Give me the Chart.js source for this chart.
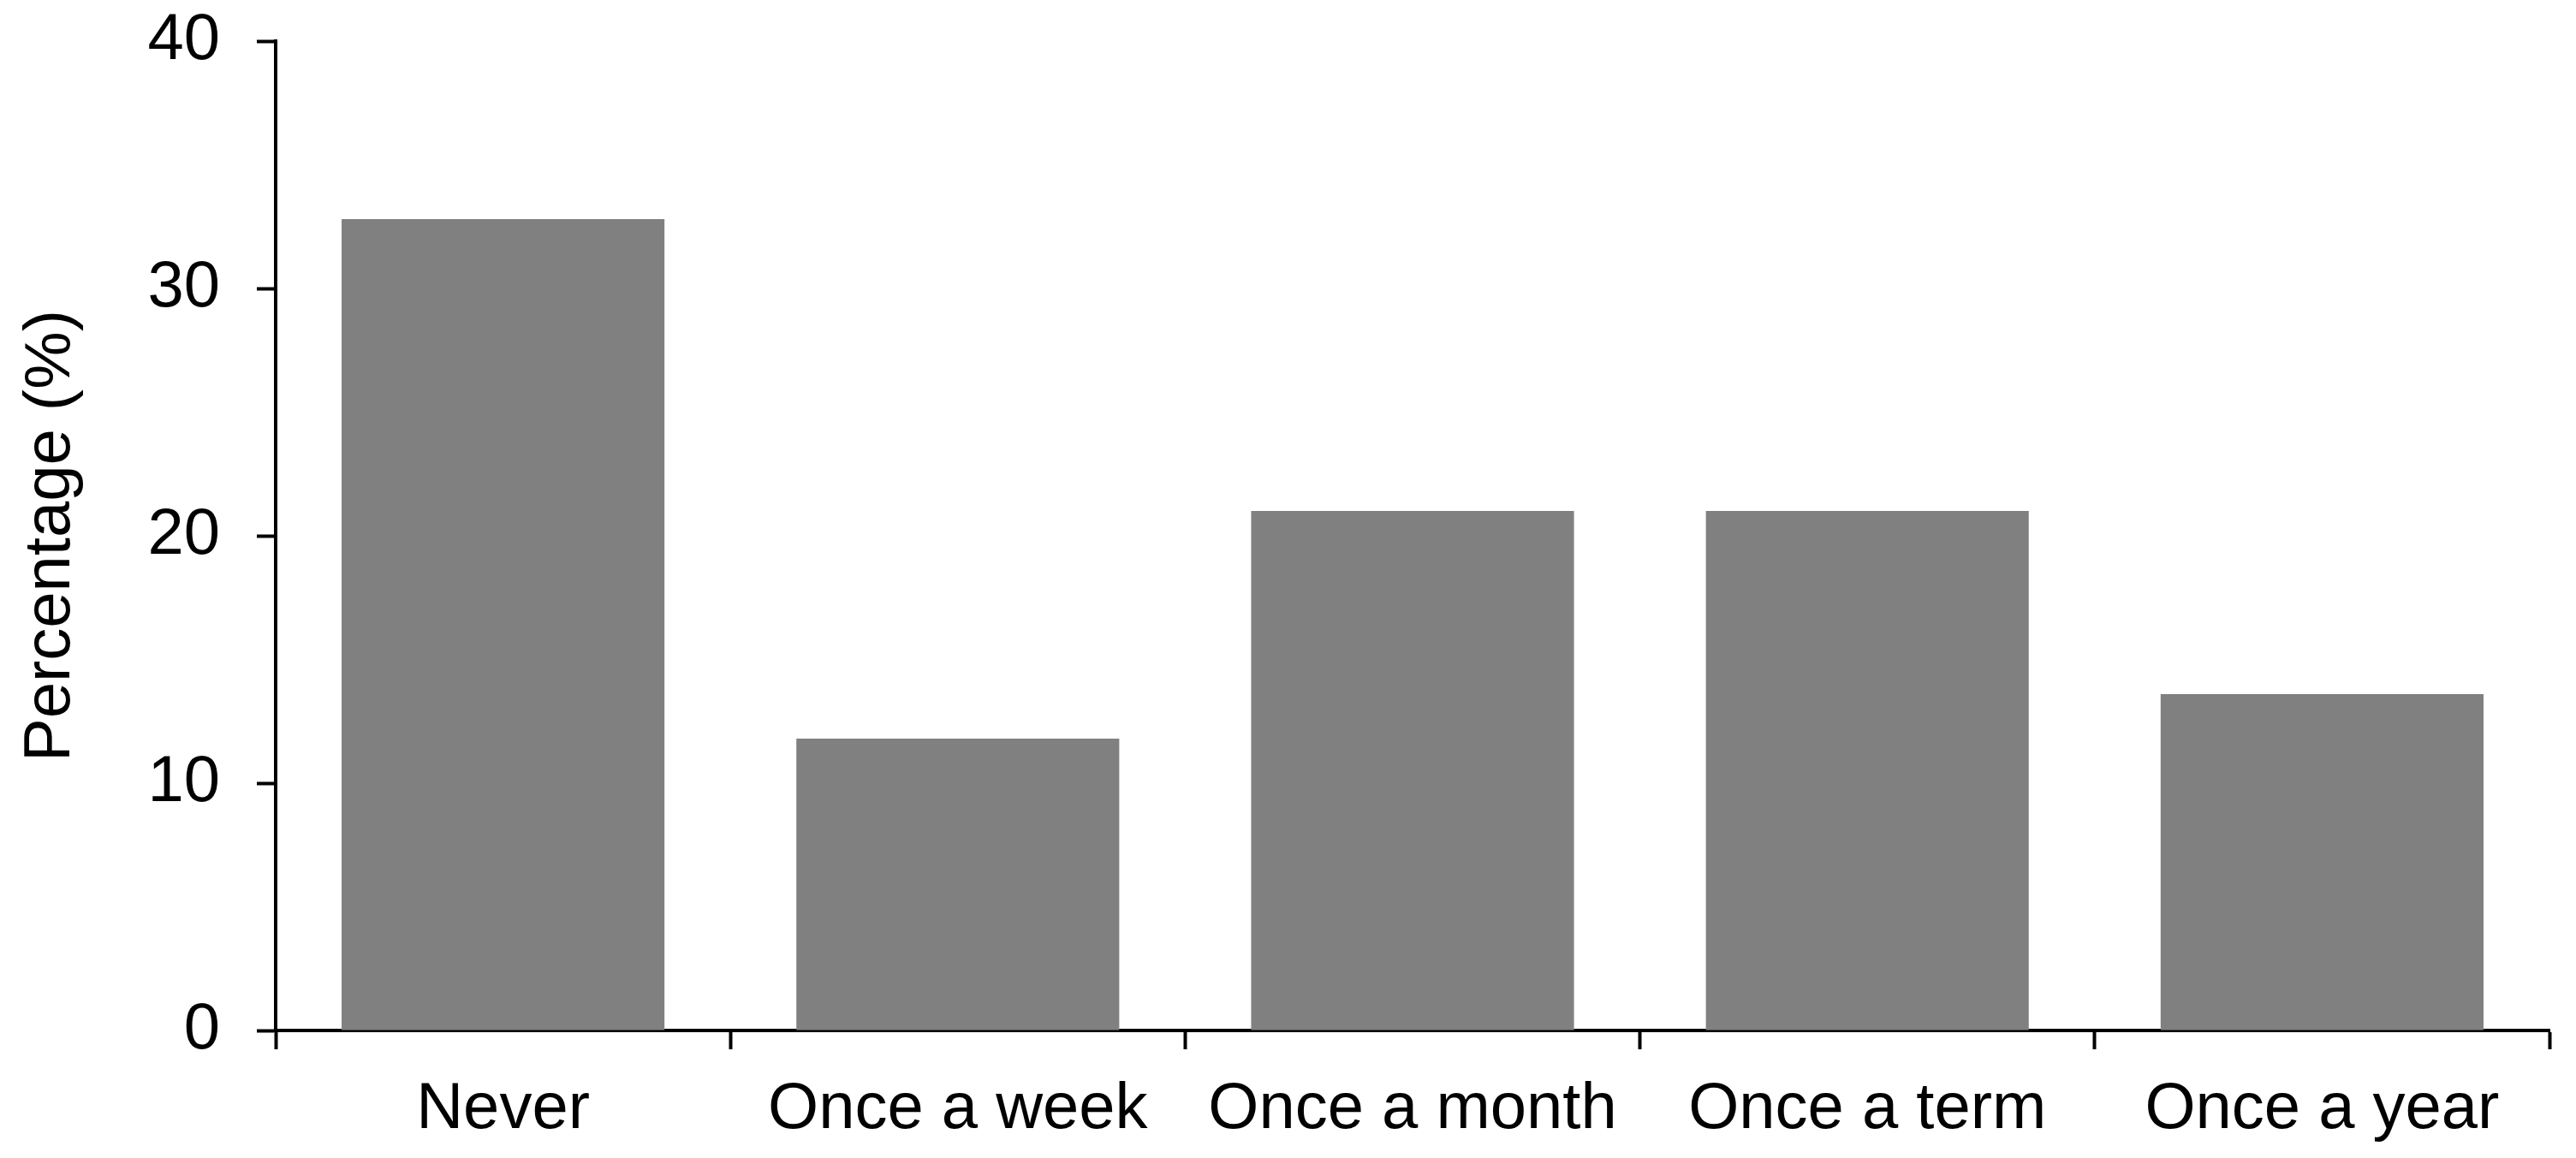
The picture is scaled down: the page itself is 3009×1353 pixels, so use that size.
<!DOCTYPE html>
<html>
<head>
<meta charset="utf-8">
<script src="https://cdn.jsdelivr.net/npm/chart.js@4/dist/chart.umd.min.js"></script>
<style>
    html, body { margin: 0; padding: 0; background: #fff; }
</style>
</head>
<body>
<canvas id="myChart" width="3009" height="1353"></canvas>
<script>
/* data */
const labels = ['Never', 'Once a week', 'Once a month', 'Once a term', 'Once a year'];
const dataValues = [32.8, 11.8, 21.0, 21.0, 13.6];
const yMin = 0;
const yMax = 40;
const yStep = 10;
const labelTitle = 'Percentage (%)';

const barColor = '#808080';
const fontFamily = '"Liberation Sans", Arial, Helvetica, sans-serif';

Chart.defaults.font.family = fontFamily;
Chart.defaults.color = '#000';

/* Bar Chart */
function renderChart(labels, dataValues) {
    const ctx = document.getElementById('myChart');

    new Chart(ctx, {
        type: 'bar',
        data: {
            labels: labels,
            datasets: [{
                label: labelTitle,
                data: dataValues,
                backgroundColor: barColor,
                borderWidth: 0,
                barPercentage: 0.71,
                categoryPercentage: 1.0
            }]
        },
        options: {
            responsive: false,
            animation: false,
            devicePixelRatio: 1,
            layout: {
                padding: { top: 48, right: 31, left: 0, bottom: 0 }
            },
            plugins: {
                legend: { display: false },
                tooltip: { enabled: false }
            },
            scales: {
                x: {
                    grid: {
                        offset: true,
                        drawOnChartArea: false,
                        drawTicks: true,
                        tickLength: 22,
                        tickWidth: 4,
                        tickColor: '#000'
                    },
                    border: { color: '#000', width: 4 },
                    ticks: {
                        font: { size: 76 },
                        color: '#000',
                        padding: 25,
                        maxRotation: 0
                    },
                    afterFit: (scale) => {
                        scale.height = 149;
                        scale.paddingLeft = 0;
                        scale.paddingRight = 0;
                    }
                },
                y: {
                    min: yMin,
                    max: yMax,
                    grid: {
                        drawOnChartArea: false,
                        drawTicks: true,
                        tickLength: 22,
                        tickWidth: 4,
                        tickColor: '#000'
                    },
                    border: { color: '#000', width: 4 },
                    ticks: {
                        stepSize: yStep,
                        font: { size: 76 },
                        color: '#000',
                        padding: 43
                    },
                    title: {
                        display: true,
                        text: labelTitle,
                        font: { size: 76 },
                        color: '#000',
                        padding: { top: 14, bottom: 0 }
                    },
                    afterFit: (scale) => {
                        scale.width = 322;
                        scale.paddingTop = 0;
                        scale.paddingBottom = 0;
                    }
                }
            }
        }
    });
}

renderChart(labels, dataValues);
</script>
</body>
</html>
